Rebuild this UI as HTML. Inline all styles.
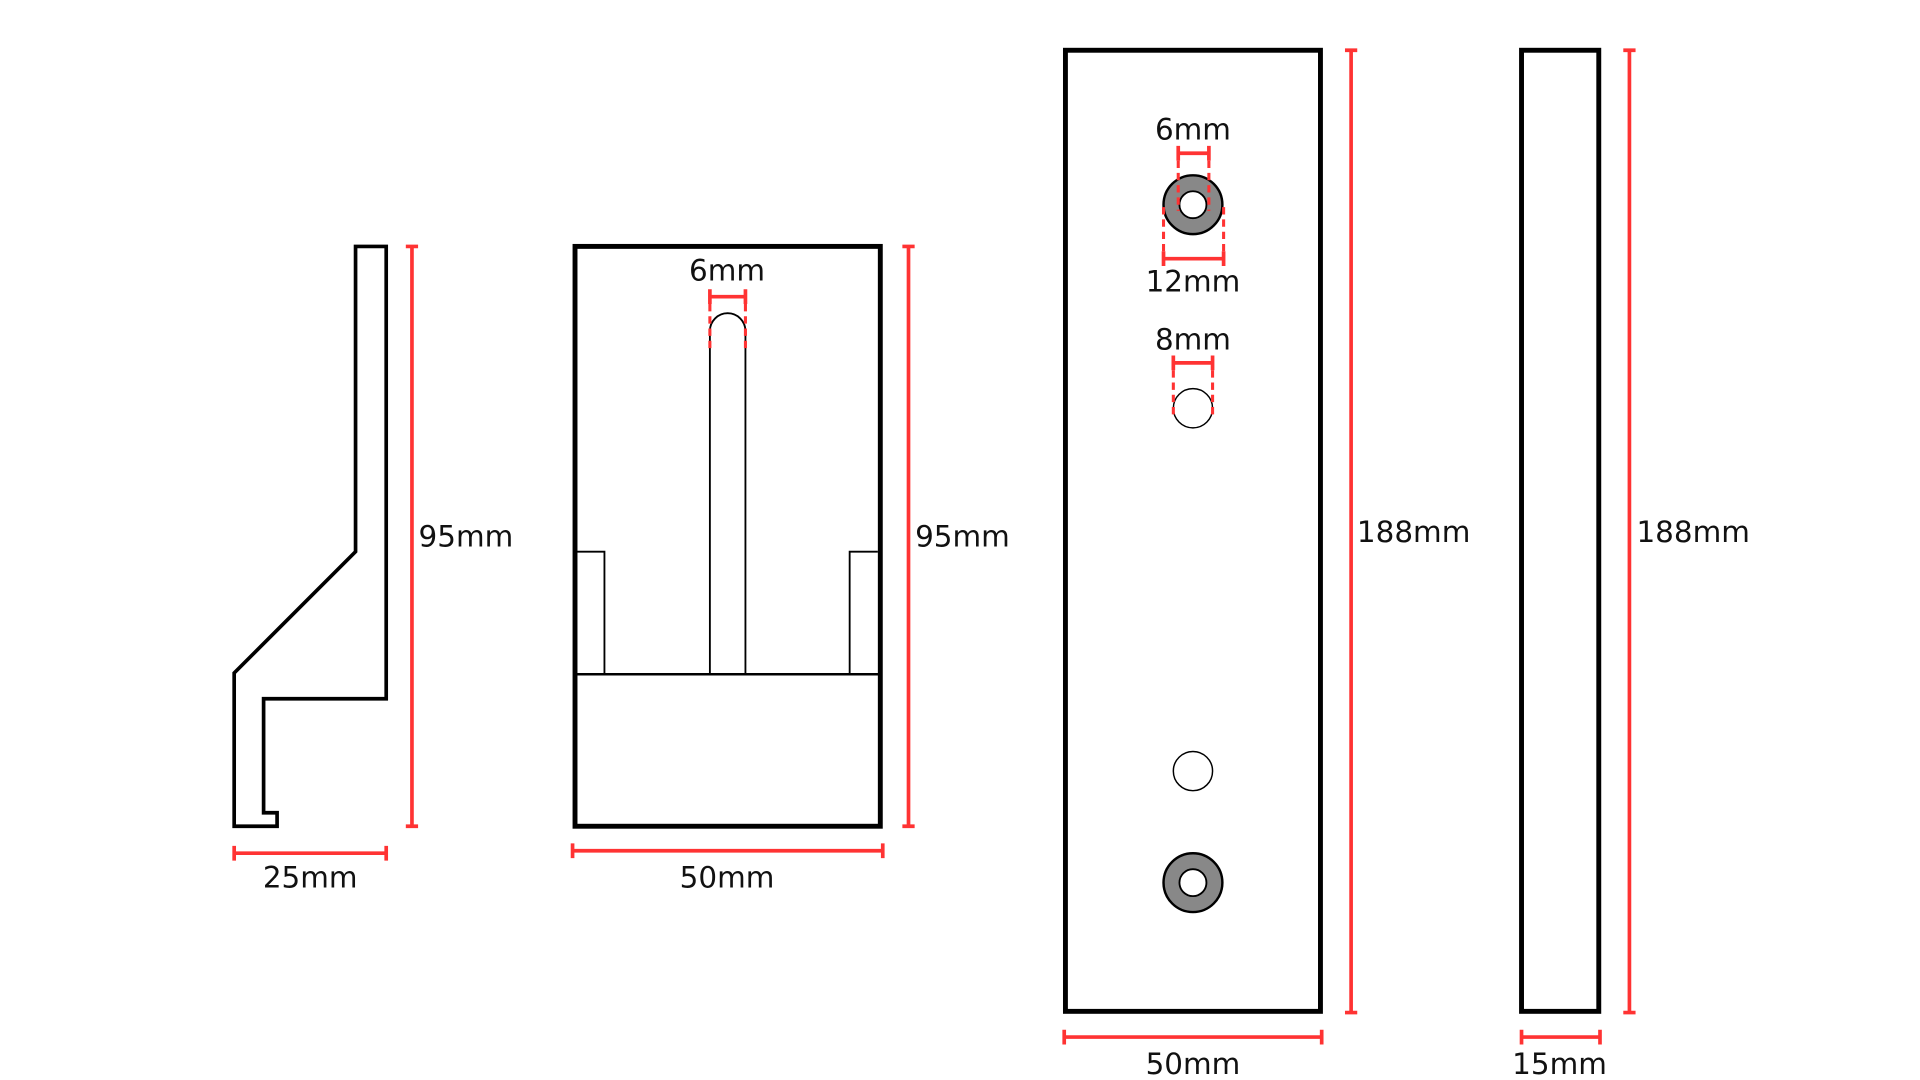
<!DOCTYPE html>
<html><head><style>html,body{margin:0;padding:0;background:#fff;overflow:hidden}svg{display:block}</style></head>
<body>
<svg width="1920" height="1080" viewBox="0 0 1566 881" preserveAspectRatio="none" xmlns="http://www.w3.org/2000/svg">
<g font-family="DejaVu Sans, Liberation Sans, sans-serif" font-size="24" text-anchor="middle" fill="#111">
<polygon points="290,201 315,201 315,570 215,570 215,663 226,663 226,674 191,674 191,549 290,450" fill="none" stroke="#000" stroke-width="3"/>
<rect x="469" y="201" width="249" height="473" fill="none" stroke="#000" stroke-width="4"/>
<line x1="469" y1="550" x2="718" y2="550" stroke="#000" stroke-width="2"/>
<path d="M579,550 V270 A14.5,14.5 0 0 1 608,270 V550" fill="none" stroke="#000" stroke-width="1.5"/>
<path d="M469,450 H493 V550 M716,450 H693 V550" fill="none" stroke="#000" stroke-width="1.5"/>
<rect x="869" y="41" width="208" height="784" fill="none" stroke="#000" stroke-width="4"/>
<circle cx="973" cy="167" r="24" fill="#888" stroke="#000" stroke-width="2"/>
<circle cx="973" cy="167" r="11" fill="#fff" stroke="#000" stroke-width="1.5"/>
<circle cx="973" cy="333" r="16" fill="#fff" stroke="#000" stroke-width="1.2"/>
<circle cx="973" cy="629" r="16" fill="#fff" stroke="#000" stroke-width="1.2"/>
<circle cx="973" cy="720" r="24" fill="#888" stroke="#000" stroke-width="2"/>
<circle cx="973" cy="720" r="11" fill="#fff" stroke="#000" stroke-width="1.5"/>
<rect x="1241" y="41" width="63" height="784" fill="none" stroke="#000" stroke-width="4"/>
<g stroke="#f33" stroke-width="3" fill="none">
<path d="M336,201 V674 M331,201 H341 M331,674 H341"/>
<path d="M191,696 H315 M191,690 V702 M315,690 V702"/>
<path d="M741,201 V674 M736,201 H746 M736,674 H746"/>
<path d="M467,694 H720 M467,688 V700 M720,688 V700"/>
<path d="M579,242 H608 M579,236 V248 M608,236 V248"/>
<path d="M1102,41 V826 M1097,41 H1107 M1097,826 H1107"/>
<path d="M868,846 H1078 M868,840 V852 M1078,840 V852"/>
<path d="M1329,41 V826 M1324,41 H1334 M1324,826 H1334"/>
<path d="M1241,846 H1305 M1241,840 V852 M1305,840 V852"/>
<path d="M961,125 H986 M961,119 V131 M986,119 V131"/>
<path d="M949,211 H998 M949,205 V217 M998,205 V217"/>
<path d="M957,296 H989 M957,290 V302 M989,290 V302"/>
</g>
<g stroke="#f33" stroke-width="2.5" fill="none" stroke-dasharray="6,4">
<path d="M579,248 V286 M608,248 V286"/>
<path d="M961,131 V172 M986,131 V172"/>
<path d="M949,205 V168 M998,205 V168"/>
<path d="M957,302 V342 M989,302 V342"/>
</g>
<text x="380" y="446">95mm</text>
<text x="253" y="724">25mm</text>
<text x="593" y="229">6mm</text>
<text x="785" y="446">95mm</text>
<text x="593" y="724">50mm</text>
<text x="973" y="114">6mm</text>
<text x="973" y="238">12mm</text>
<text x="973" y="285">8mm</text>
<text x="1153" y="442">188mm</text>
<text x="973" y="876">50mm</text>
<text x="1381" y="442">188mm</text>
<text x="1272" y="876">15mm</text>
</g>
</svg>
</body></html>
